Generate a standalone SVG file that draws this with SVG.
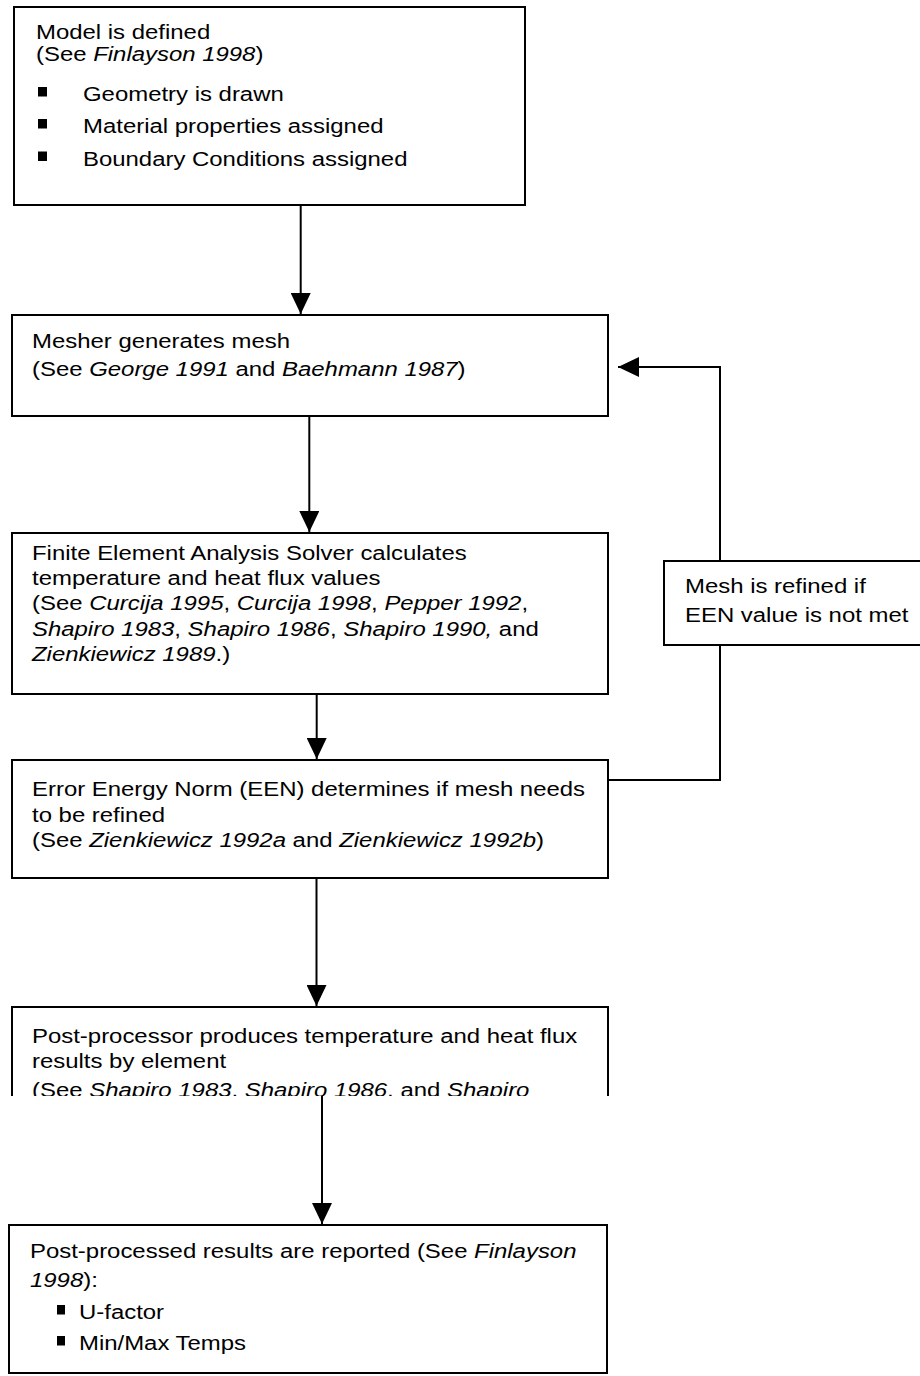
<svg xmlns="http://www.w3.org/2000/svg" width="920" height="1376" viewBox="0 0 920 1376">
<style>
.box{fill:#fff;stroke:#000;stroke-width:2}
.edge{fill:none;stroke:#000;stroke-width:2}
.t{font-family:"Liberation Sans",Arial,sans-serif;font-size:21px;fill:#000}
.i{font-style:italic}
.b{fill:#000}
</style>
<defs>
<marker id="ah" markerUnits="userSpaceOnUse" markerWidth="22" markerHeight="20" refX="21" refY="10" orient="auto">
<path d="M0,0 L21,10 L0,20 Z" fill="#000"/>
</marker>
<clipPath id="c5"><rect x="0" y="1000" width="620" height="96"/></clipPath>
</defs>
<rect width="920" height="1376" fill="#fff"/>
<g id="connectors">
<line class="edge" x1="300.7" y1="205" x2="300.7" y2="314" marker-end="url(#ah)"/>
<line class="edge" x1="309.3" y1="416" x2="309.3" y2="532" marker-end="url(#ah)"/>
<line class="edge" x1="316.7" y1="694" x2="316.7" y2="759" marker-end="url(#ah)"/>
<line class="edge" x1="316.5" y1="878" x2="316.5" y2="1006" marker-end="url(#ah)"/>
<line class="edge" x1="322" y1="1096" x2="322" y2="1224" marker-end="url(#ah)"/>
<polyline class="edge" points="608,780 720,780 720,367 618,367" marker-end="url(#ah)"/>
</g>
<g id="n1">
<rect class="box" x="14" y="7" width="511" height="198"/>
<text class="t" transform="translate(36,39) scale(1.14,1)">Model is defined</text>
<text class="t" transform="translate(36,61) scale(1.14,1)">(See <tspan class="i">Finlayson 1998</tspan>)</text>
<rect class="b" x="38" y="87" width="9" height="9.5"/>
<rect class="b" x="38" y="119" width="9" height="9.5"/>
<rect class="b" x="38" y="151.5" width="9" height="9.5"/>
<text class="t" transform="translate(83,101) scale(1.14,1)">Geometry is drawn</text>
<text class="t" transform="translate(83,133) scale(1.14,1)">Material properties assigned</text>
<text class="t" transform="translate(83,165.5) scale(1.14,1)">Boundary Conditions assigned</text>
</g>
<g id="n2">
<rect class="box" x="12" y="315" width="596" height="101"/>
<text class="t" transform="translate(32,348) scale(1.14,1)">Mesher generates mesh</text>
<text class="t" transform="translate(32,376) scale(1.14,1)">(See <tspan class="i">George 1991</tspan> and <tspan class="i">Baehmann 1987</tspan>)</text>
</g>
<g id="n3">
<rect class="box" x="12" y="533" width="596" height="161"/>
<text class="t" transform="translate(32,560) scale(1.14,1)">Finite Element Analysis Solver calculates</text>
<text class="t" transform="translate(32,585) scale(1.14,1)">temperature and heat flux values</text>
<text class="t" transform="translate(32,610) scale(1.14,1)">(See <tspan class="i">Curcija 1995</tspan>, <tspan class="i">Curcija 1998</tspan>, <tspan class="i">Pepper 1992</tspan>,</text>
<text class="t" transform="translate(32,636) scale(1.14,1)"><tspan class="i">Shapiro 1983</tspan>, <tspan class="i">Shapiro 1986</tspan>, <tspan class="i">Shapiro 1990,</tspan> and</text>
<text class="t" transform="translate(32,661) scale(1.14,1)"><tspan class="i">Zienkiewicz 1989</tspan>.)</text>
</g>
<g id="n_refine">
<rect class="box" x="664" y="561" width="270" height="84"/>
<text class="t" transform="translate(685,593) scale(1.14,1)">Mesh is refined if</text>
<text class="t" transform="translate(685,622) scale(1.14,1)">EEN value is not met</text>
</g>
<g id="n4">
<rect class="box" x="12" y="760" width="596" height="118"/>
<text class="t" transform="translate(32,796) scale(1.14,1)">Error Energy Norm (EEN) determines if mesh needs</text>
<text class="t" transform="translate(32,822) scale(1.14,1)">to be refined</text>
<text class="t" transform="translate(32,847) scale(1.14,1)">(See <tspan class="i">Zienkiewicz 1992a</tspan> and <tspan class="i">Zienkiewicz 1992b</tspan>)</text>
</g>
<g id="n5">
<path class="edge" d="M12,1096 L12,1007 L608,1007 L608,1096"/>
<g clip-path="url(#c5)">
<text class="t" transform="translate(32,1043) scale(1.14,1)">Post-processor produces temperature and heat flux</text>
<text class="t" transform="translate(32,1068) scale(1.14,1)">results by element</text>
<text class="t" transform="translate(32,1097) scale(1.14,1)">(See <tspan class="i">Shapiro 1983</tspan>, <tspan class="i">Shapiro 1986</tspan>, and <tspan class="i">Shapiro</tspan></text>
</g>
</g>
<g id="n6">
<rect class="box" x="9" y="1225" width="598" height="148"/>
<text class="t" transform="translate(30,1258) scale(1.14,1)">Post-processed results are reported (See <tspan class="i">Finlayson</tspan></text>
<text class="t" transform="translate(30,1287) scale(1.14,1)"><tspan class="i">1998</tspan>):</text>
<rect class="b" x="57" y="1305" width="8" height="9.5"/>
<rect class="b" x="57" y="1336" width="8" height="9.5"/>
<text class="t" transform="translate(79,1319) scale(1.14,1)">U-factor</text>
<text class="t" transform="translate(79,1350) scale(1.14,1)">Min/Max Temps</text>
</g>
</svg>
